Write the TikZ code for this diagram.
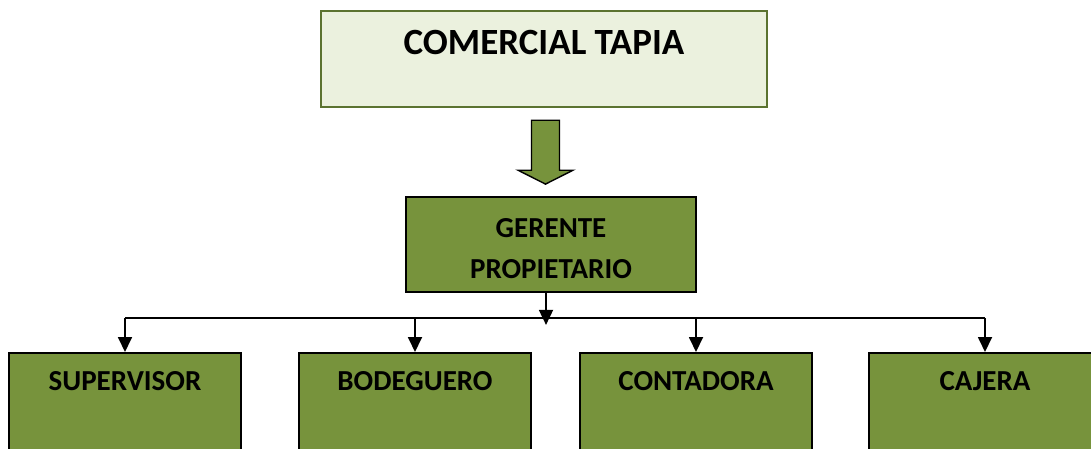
\documentclass[tikz,border=0pt]{standalone}
\usepackage{fontspec}
\setmainfont{Carlito}
\usetikzlibrary{arrows.meta,calc}
\definecolor{olivefill}{HTML}{77933C}
\definecolor{lightfill}{HTML}{EBF1DE}
\definecolor{oliveline}{HTML}{5B7330}
\tikzset{
  rolebox/.style={draw=black,line width=1.8pt,fill=olivefill,inner sep=0pt,
    text width=232pt,align=center,text height=38pt,text depth=80pt,
    font=\fontsize{29}{34}\selectfont\bfseries},
  link/.style={line width=1.8pt,draw=black},
  arr/.style={link,-{Triangle[width=14pt,length=15pt]}},
}
\begin{document}
\begin{tikzpicture}[x=1pt,y=-1pt]
\useasboundingbox (0,0) rectangle (1091,448);
\clip (0,0) rectangle (1091,448);
\fill[white] (0,0) rectangle (1091,448);
\node[draw=oliveline,line width=2.2pt,fill=lightfill,inner sep=0pt,
  text width=446pt,align=center,text height=43.3pt,text depth=52.7pt,
  font=\fontsize{37}{42}\selectfont\bfseries] (top) at (544,0) [anchor=north,yshift=-10pt] {\spaceskip=0.22em\relax COMERCIAL TAPIA};
\node[draw=black,line width=1.8pt,fill=olivefill,inner sep=0pt,
  minimum width=290pt,minimum height=95pt,align=center,
  font=\fontsize{29}{41}\selectfont\bfseries] (ger) at (551,244.5) {\rule{0pt}{27pt}GERENTE\\PROPIETARIO};
\node[rolebox] (sup) at (125,352) [anchor=north] {SUPERVISOR};
\node[rolebox] (bod) at (415,352) [anchor=north] {BODEGUERO};
\node[rolebox] (con) at (696,352) [anchor=north] {CONTADORA};
\node[rolebox] (caj) at (985,352) [anchor=north] {CAJERA};
% block arrow
\coordinate (ba) at ($(top.south)+(1.5,12)$);
\draw[line width=1.4pt,fill=olivefill,line join=miter]
  ($(ba)+(-14,0)$) -- ($(ba)+(14,0)$) -- ($(ba)+(14,50)$) -- ($(ba)+(27.5,50)$)
  -- ($(ger.north)+(-5.5,-12)$) -- ($(ba)+(-27.5,50)$) -- ($(ba)+(-14,50)$) -- cycle;
% connectors
\coordinate (bus) at (0,318);
\draw[link] (sup.north |- bus) -- (caj.north |- bus);
\draw[arr] ($(ger.south)+(-5,0)$) -- ++(0,32);
\draw[arr] (sup.north |- bus) -- (sup.north);
\draw[arr] (bod.north |- bus) -- (bod.north);
\draw[arr] (con.north |- bus) -- (con.north);
\draw[arr] (caj.north |- bus) -- (caj.north);
\end{tikzpicture}
\end{document}
